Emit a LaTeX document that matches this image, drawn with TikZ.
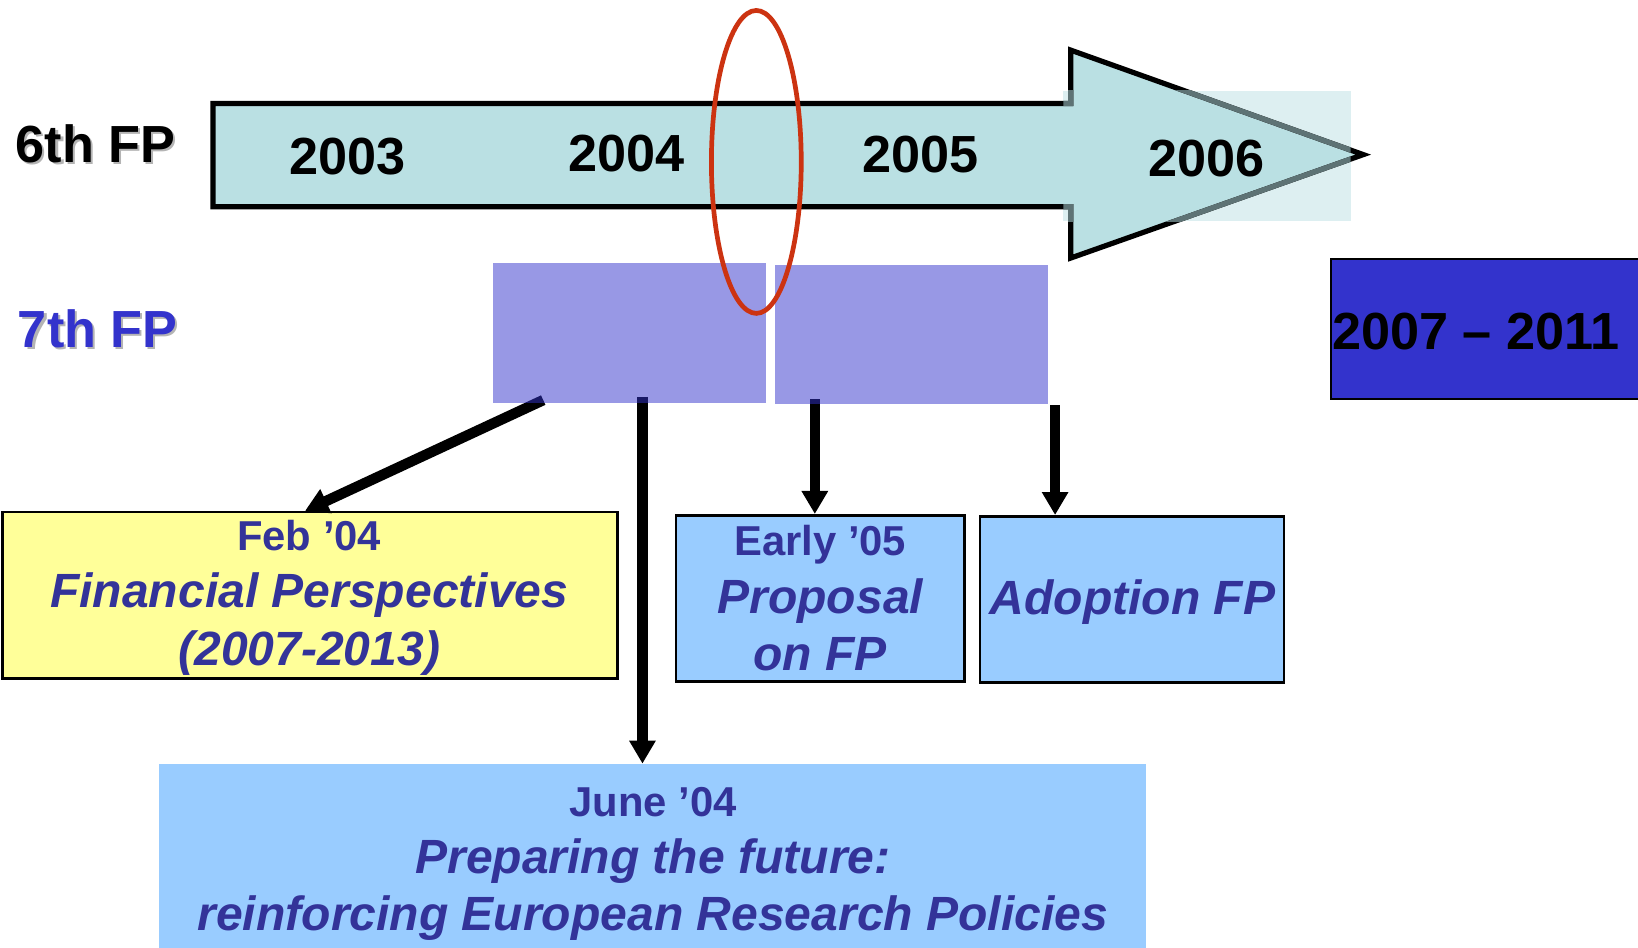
\documentclass[tikz,border=0pt]{standalone}
\usepackage{fontspec}
\setmainfont{Liberation Sans}
\usetikzlibrary{arrows.meta}
\definecolor{arrowfill}{HTML}{BAE0E3}
\definecolor{overlayc}{HTML}{DDEFF1}
\definecolor{fpblue}{HTML}{3333CC}
\definecolor{txtblue}{HTML}{333399}
\definecolor{yellowc}{HTML}{FFFF99}
\definecolor{lightblue}{HTML}{99CCFF}
\definecolor{ringred}{HTML}{CC3311}
\definecolor{grayline}{HTML}{5E7375}
\definecolor{shadowc}{HTML}{B4B4B4}
\newcommand\datefont{\fontsize{40}{48}\selectfont\bfseries\upshape}
\begin{document}
\begin{tikzpicture}[x=1pt,y=-1pt,
  big/.style={font=\fontsize{50}{60}\selectfont\bfseries, inner sep=0pt},
  boxtext/.style={font=\fontsize{46}{55}\selectfont\bfseries\itshape, text=txtblue, align=center, inner sep=0pt},
  evbox/.style={draw=black, line width=2.5pt, anchor=north west, inner sep=0pt},
  purplebox/.style={fill=fpblue, fill opacity=0.5, anchor=north west, inner sep=0pt, minimum width=261pt, minimum height=134pt},
  conn/.style={line width=10pt, -{Triangle[width=24pt,length=22pt]}}]
\clip (0,0) rectangle (1568,907);
\fill[white] (0,0) rectangle (1568,907);

% timeline arrow
\fill[overlayc] (1018,87) rectangle (1293,212);
\path[fill=arrowfill, draw=black, line width=5pt]
  (204,99) -- (1025,99) -- (1025,48) -- (1305,148) -- (1025,247) -- (1025,198) -- (204,198) -- cycle;
\begin{scope}
  \clip (1018,87) rectangle (1293,212);
  \draw[grayline, line width=5pt]
    (204,99) -- (1025,99) -- (1025,48) -- (1305,148) -- (1025,247) -- (1025,198) -- (204,198) -- cycle;
\end{scope}

\node[big] (y2003) at (333,150) {2003};
\node[big] (y2004) at (600,147) {2004};
\node[big] (y2005) at (881,148) {2005};
\node[big] (y2006) at (1155,152) {2006};

% event boxes
\node[evbox, fill=yellowc, minimum width=589pt, minimum height=159pt] (feb) at (1,489) {};
\node[boxtext] (febtxt) at (296,572)
  {{\datefont Feb ’04}\\Financial Perspectives\\(2007-2013)};
\node[evbox, fill=lightblue, minimum width=276pt, minimum height=159pt] (early) at (646,492) {};
\node[boxtext] (earlytxt) at (early.center) {{\datefont Early ’05}\\Proposal\\on FP};
\node[evbox, fill=lightblue, minimum width=291pt, minimum height=159pt] (adopt) at (937,493) {};
\node[boxtext] (adopttxt) at (1084,576) {Adoption FP};
\node[fill=lightblue, anchor=north west, inner sep=0pt, minimum width=945pt, minimum height=190pt] (june) at (152,731) {};
\node[boxtext] (junetxt) at (625,827)
  {{\datefont June ’04}\\Preparing the future:\\reinforcing European Research Policies};

% connectors
\coordinate (s1) at (520,383);
\coordinate (t1) at (292,489);
\coordinate (s2) at (615,380);
\coordinate (s3) at (780,382);
\coordinate (s4) at (1010,388);
\draw[conn] (s1) -- (t1);
\draw[conn] (s2) -- (s2 |- june.north);
\draw[conn] (s3) -- (s3 |- early.north);
\draw[conn] (s4) -- (s4 |- adopt.north);

% 7th FP boxes
\node[purplebox] (p1) at (472,252) {};
\node[purplebox] (p2) at (742,253) {};

\node[draw=black, line width=2pt, fill=fpblue, anchor=north west, minimum width=330pt, minimum height=134pt] (dark) at (1273,247) {};
\node[big] (yrs) at (1413,317) {2007 – 2011};

% ring
\draw[ringred, line width=4.5pt] (724,155) ellipse [x radius=43pt, y radius=145pt];

% row labels
\node[big, text=shadowc, anchor=west] (fp6s) at (17,140) {6th FP};
\node[big, anchor=west] (fp6) at (15,138) {6th FP};
\node[big, text=shadowc, anchor=west] (fp7s) at (19,317) {7th FP};
\node[big, text=fpblue, anchor=west] (fp7) at (17,315) {7th FP};
\end{tikzpicture}
\end{document}
